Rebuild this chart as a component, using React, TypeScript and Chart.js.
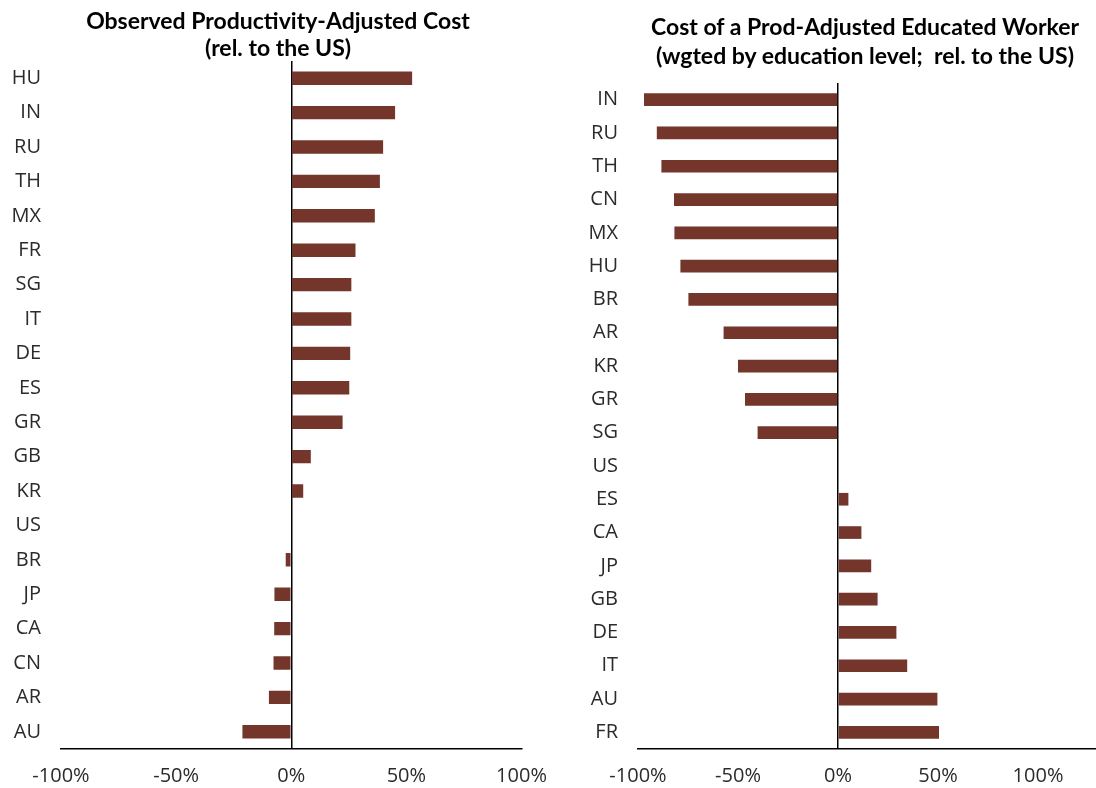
import React, { useEffect, useRef } from "react";
import { Chart, registerables } from "chart.js";

Chart.register(...registerables);

const leftCategories = ["HU", "IN", "RU", "TH", "MX", "FR", "SG", "IT", "DE", "ES", "GR", "GB", "KR", "US", "BR", "JP", "CA", "CN", "AR", "AU"];
const leftValues = [52.5, 45.1, 39.9, 38.5, 36.3, 27.9, 26.1, 26.1, 25.6, 25.2, 22.3, 8.5, 5.2, 0, -2.4, -7.3, -7.4, -7.7, -9.7, -21.2];
const leftTitle = ["Observed Productivity-Adjusted Cost", "(rel. to the US)"];

const rightCategories = ["IN", "RU", "TH", "CN", "MX", "HU", "BR", "AR", "KR", "GR", "SG", "US", "ES", "CA", "JP", "GB", "DE", "IT", "AU", "FR"];
const rightValues = [-97.0, -90.6, -88.3, -82.0, -81.8, -78.8, -74.8, -57.2, -50.0, -46.5, -40.2, 0, 5.2, 11.7, 16.6, 19.8, 29.2, 34.6, 49.7, 50.5];
const rightTitle = ["Cost of a Prod-Adjusted Educated Worker", "(wgted by education level;  rel. to the US)"];

const tickValues = [-100, -50, 0, 50, 100];

const BAR = "#74352b";
const TEXT = "#2b2b2b";

type Cfg = {
  categories: string[];
  values: number[];
  title: string[];
  xMax: number;
  yWidth: number;
  rightPad: number;
  topPad: number;
  titleCenter: number;
  titleFirstY: number;
  titleLineH: number;
  barPct: number;
};

function BarPanel({ cfg, left }: { cfg: Cfg; left: number }) {
  const ref = useRef<HTMLCanvasElement>(null);
  useEffect(() => {
    const chart = new Chart(ref.current!, {
      type: "bar",
      data: {
        labels: cfg.categories,
        datasets: [
          {
            data: cfg.values,
            backgroundColor: BAR,
            borderWidth: 0,
            barPercentage: cfg.barPct,
            categoryPercentage: 1,
          },
        ],
      },
      options: {
        indexAxis: "y",
        animation: false,
        responsive: false,
        maintainAspectRatio: false,
        layout: { padding: { left: 0, right: cfg.rightPad, top: cfg.topPad, bottom: 0 } },
        plugins: {
          legend: { display: false },
          tooltip: { enabled: false },
          title: { display: false },
        },
        scales: {
          x: {
            type: "linear",
            min: -100,
            max: cfg.xMax,
            afterBuildTicks: (s: any) => {
              s.ticks = tickValues.map((v) => ({ value: v }));
            },
            afterFit: (s: any) => {
              s.height = 39;
              s.paddingLeft = 0;
              s.paddingRight = 0;
            },
            ticks: {
              color: TEXT,
              padding: 15,
              font: { family: "Open Sans", size: 20 },
              callback: (v: any) => v + "%",
            },
            grid: {
              drawTicks: false,
              color: (c: any) => (c.tick && c.tick.value === 0 ? "#000" : "rgba(0,0,0,0)"),
              lineWidth: 1.5,
            },
            border: { display: true, color: "#000", width: 1.5 },
          },
          y: {
            type: "category",
            afterFit: (s: any) => {
              s.width = cfg.yWidth;
              s.paddingTop = 0;
              s.paddingBottom = 0;
            },
            ticks: {
              color: TEXT,
              padding: 20,
              font: { family: "Open Sans", size: 20 },
            },
            grid: { display: false, drawTicks: false },
            border: { display: false },
          },
        },
      },
    } as any);
    return () => chart.destroy();
  }, []);
  return (
    <>
      <canvas
        ref={ref}
        width={548}
        height={788}
        style={{ position: "absolute", left, top: 0, width: 548, height: 788 }}
      />
      {cfg.title.map((t, i) => (
        <div
          key={i}
          style={{
            position: "absolute",
            left: left + cfg.titleCenter - 300,
            width: 600,
            top: cfg.titleFirstY + i * cfg.titleLineH - 15,
            height: 30,
            lineHeight: "30px",
            textAlign: "center",
            fontFamily: "Lato",
            fontWeight: 700,
            fontSize: 23,
            color: "#000",
            whiteSpace: "pre",
          }}
        >
          {t}
        </div>
      ))}
    </>
  );
}

const leftCfg: Cfg = {
  categories: leftCategories,
  values: leftValues,
  title: leftTitle,
  xMax: 100,
  yWidth: 61,
  rightPad: 26.5,
  topPad: 61,
  titleCenter: 278,
  titleFirstY: 20,
  titleLineH: 27,
  barPct: 0.39,
};

const rightCfg: Cfg = {
  categories: rightCategories,
  values: rightValues,
  title: rightTitle,
  xMax: 129,
  yWidth: 90,
  rightPad: 0,
  topPad: 83,
  titleCenter: 317,
  titleFirstY: 26,
  titleLineH: 29,
  barPct: 0.38,
};

export default function App() {
  useEffect(() => {
    document.body.style.margin = "0";
  }, []);
  return (
    <div style={{ position: "relative", width: 1096, height: 788, background: "#fff", overflow: "hidden" }}>
      <BarPanel cfg={leftCfg} left={0} />
      <BarPanel cfg={rightCfg} left={548} />
    </div>
  );
}
